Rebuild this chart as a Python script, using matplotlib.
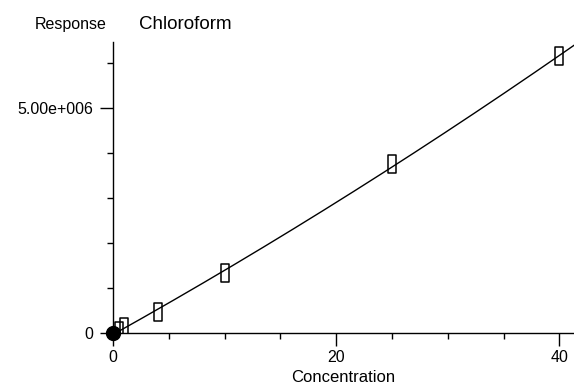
import numpy as np
import matplotlib
matplotlib.use("Agg")
import matplotlib.pyplot as plt
from matplotlib.path import Path
from matplotlib.ticker import MultipleLocator, FixedLocator, FixedFormatter

plt.rcParams['font.family'] = ['Liberation Sans', 'DejaVu Sans']

# calibration levels and responses
conc = [0.5, 1, 4, 10, 25, 40]
resp = [0.05e6, 0.13e6, 0.47e6, 1.33e6, 3.76e6, 6.15e6]
origin_x = [0]
origin_y = [0]

x_ticks = [0, 20, 40]
y_ticks = [0, 5e6]
y_tick_labels = ['0', '5.00e+006']

fig = plt.figure(figsize=(5.74, 3.84), dpi=100)
ax = fig.add_axes([113/574, 1-333/384, 1-113/574, (333-42)/384])

# quadratic calibration fit
coef = np.polyfit(origin_x + conc, origin_y + resp, 2)
xs = np.linspace(0, 41.3, 200)
ax.plot(xs, np.polyval(coef, xs), color='black', lw=1.0, zorder=2)

rect = Path([(-0.22, -0.5), (0.22, -0.5), (0.22, 0.5), (-0.22, 0.5), (-0.22, -0.5)],
            [Path.MOVETO, Path.LINETO, Path.LINETO, Path.LINETO, Path.CLOSEPOLY])
ax.plot(conc, resp, linestyle='none', marker=rect, markersize=12.5,
        markerfacecolor='none', markeredgecolor='black', markeredgewidth=1.1, zorder=3)
ax.plot(origin_x, origin_y, linestyle='none', marker='o', markersize=10,
        color='black', zorder=4, clip_on=False)

ax.set_xlim(0, 41.3)
ax.set_ylim(0, 6.47e6)
ax.spines['top'].set_visible(False)
ax.spines['right'].set_visible(False)
for s in ('left', 'bottom'):
    ax.spines[s].set_linewidth(1.0)

ax.xaxis.set_major_locator(FixedLocator(x_ticks))
ax.xaxis.set_minor_locator(MultipleLocator(5))
ax.yaxis.set_major_locator(FixedLocator(y_ticks))
ax.yaxis.set_major_formatter(FixedFormatter(y_tick_labels))
ax.yaxis.set_minor_locator(MultipleLocator(1e6))
ax.tick_params(which='major', length=9.5, width=1.0, labelsize=11.5, pad=3)
ax.tick_params(which='minor', length=4.5, width=1.0)
ax.tick_params(axis='y', which='major', pad=5)

fig.text((113 + 574) / 2 / 574, 2/384, 'Concentration', fontsize=12,
         ha='center', va='baseline')
fig.text(35/574, 1-29/384, 'Response', fontsize=11.5, ha='left', va='baseline')
fig.text(139/574, 1-29/384, 'Chloroform', fontsize=13.5, ha='left', va='baseline')

fig.savefig('out.png', dpi=100)
